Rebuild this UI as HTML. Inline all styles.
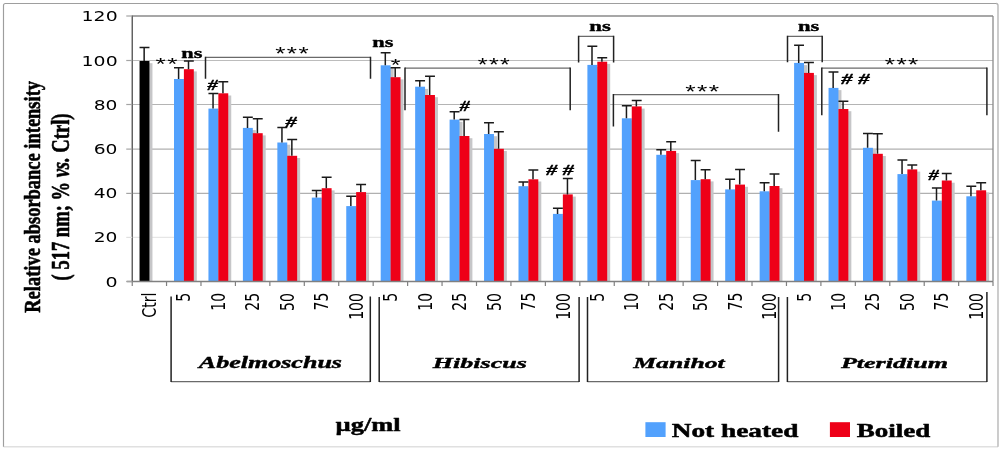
<!DOCTYPE html>
<html><head><meta charset="utf-8"><title>Relative absorbance intensity chart</title><style>html,body{margin:0;padding:0;background:#fff;width:1000px;height:449px;overflow:hidden}svg{display:block}</style></head><body>
<svg width="1000" height="449" viewBox="0 0 1000 449">
<defs><filter id="sh" x="-50%" y="-5%" width="200%" height="110%"><feGaussianBlur stdDeviation="0.6"/></filter></defs>
<rect x="0" y="0" width="1000" height="449" fill="#fff"/>
<path d="M3.6 446.8H998" stroke="#e0e0e0" stroke-width="1.5" fill="none"/>
<path d="M998 446.8V5.5Q998 3.5 996 3.5" stroke="#b2b2b2" stroke-width="1.3" fill="none"/>
<path d="M996 3.5H5.5Q3.5 3.5 3.5 5.5V446.8" stroke="#9e9e9e" stroke-width="1.15" fill="none"/>
<line x1="132.25" y1="60.5" x2="993.0" y2="60.5" stroke="#bcbcbc" stroke-width="1.0"/>
<line x1="132.25" y1="104.5" x2="993.0" y2="104.5" stroke="#b4b4b4" stroke-width="1.0"/>
<line x1="132.25" y1="149.1" x2="993.0" y2="149.1" stroke="#b0b0b0" stroke-width="1.3"/>
<line x1="132.25" y1="193.4" x2="993.0" y2="193.4" stroke="#b0b0b0" stroke-width="1.15"/>
<line x1="132.25" y1="237.4" x2="993.0" y2="237.4" stroke="#e6e6e6" stroke-width="1.2"/>
<line x1="132.25" y1="16.0" x2="993.0" y2="16.0" stroke="#8a8a8a" stroke-width="1.3"/>
<line x1="993.0" y1="16.0" x2="993.0" y2="281.5" stroke="#8a8a8a" stroke-width="1.3"/>
<rect x="142.55" y="63.2" width="9.9" height="218.3" fill="#c6c6c8" filter="url(#sh)"/>
<rect x="139.55" y="61" width="9.9" height="220.5" fill="#000"/>
<rect x="177" y="81.2" width="9.9" height="200.3" fill="#c6c6c8" filter="url(#sh)"/>
<rect x="186.9" y="71.4" width="9.9" height="210.1" fill="#c6c6c8" filter="url(#sh)"/>
<rect x="174" y="79" width="9.9" height="202.5" fill="#52a1fd"/>
<rect x="183.9" y="69.2" width="9.9" height="212.3" fill="#ee0018"/>
<rect x="211.45" y="110.8" width="9.9" height="170.7" fill="#c6c6c8" filter="url(#sh)"/>
<rect x="221.35" y="95.5" width="9.9" height="186" fill="#c6c6c8" filter="url(#sh)"/>
<rect x="208.45" y="108.6" width="9.9" height="172.9" fill="#52a1fd"/>
<rect x="218.35" y="93.3" width="9.9" height="188.2" fill="#ee0018"/>
<rect x="245.9" y="130.1" width="9.9" height="151.4" fill="#c6c6c8" filter="url(#sh)"/>
<rect x="255.8" y="135.4" width="9.9" height="146.1" fill="#c6c6c8" filter="url(#sh)"/>
<rect x="242.9" y="127.9" width="9.9" height="153.6" fill="#52a1fd"/>
<rect x="252.8" y="133.2" width="9.9" height="148.3" fill="#ee0018"/>
<rect x="280.35" y="144.7" width="9.9" height="136.8" fill="#c6c6c8" filter="url(#sh)"/>
<rect x="290.25" y="158" width="9.9" height="123.5" fill="#c6c6c8" filter="url(#sh)"/>
<rect x="277.35" y="142.5" width="9.9" height="139" fill="#52a1fd"/>
<rect x="287.25" y="155.8" width="9.9" height="125.7" fill="#ee0018"/>
<rect x="314.8" y="199.8" width="9.9" height="81.7" fill="#c6c6c8" filter="url(#sh)"/>
<rect x="324.7" y="190.4" width="9.9" height="91.1" fill="#c6c6c8" filter="url(#sh)"/>
<rect x="311.8" y="197.6" width="9.9" height="83.9" fill="#52a1fd"/>
<rect x="321.7" y="188.2" width="9.9" height="93.3" fill="#ee0018"/>
<rect x="349.25" y="208.3" width="9.9" height="73.2" fill="#c6c6c8" filter="url(#sh)"/>
<rect x="359.15" y="194.3" width="9.9" height="87.2" fill="#c6c6c8" filter="url(#sh)"/>
<rect x="346.25" y="206.1" width="9.9" height="75.4" fill="#52a1fd"/>
<rect x="356.15" y="192.1" width="9.9" height="89.4" fill="#ee0018"/>
<rect x="383.7" y="67.5" width="9.9" height="214" fill="#c6c6c8" filter="url(#sh)"/>
<rect x="393.6" y="79.4" width="9.9" height="202.1" fill="#c6c6c8" filter="url(#sh)"/>
<rect x="380.7" y="65.3" width="9.9" height="216.2" fill="#52a1fd"/>
<rect x="390.6" y="77.2" width="9.9" height="204.3" fill="#ee0018"/>
<rect x="418.15" y="88.9" width="9.9" height="192.6" fill="#c6c6c8" filter="url(#sh)"/>
<rect x="428.05" y="97.2" width="9.9" height="184.3" fill="#c6c6c8" filter="url(#sh)"/>
<rect x="415.15" y="86.7" width="9.9" height="194.8" fill="#52a1fd"/>
<rect x="425.05" y="95" width="9.9" height="186.5" fill="#ee0018"/>
<rect x="452.6" y="121.8" width="9.9" height="159.7" fill="#c6c6c8" filter="url(#sh)"/>
<rect x="462.5" y="138.2" width="9.9" height="143.3" fill="#c6c6c8" filter="url(#sh)"/>
<rect x="449.6" y="119.6" width="9.9" height="161.9" fill="#52a1fd"/>
<rect x="459.5" y="136" width="9.9" height="145.5" fill="#ee0018"/>
<rect x="487.05" y="136.2" width="9.9" height="145.3" fill="#c6c6c8" filter="url(#sh)"/>
<rect x="496.95" y="151" width="9.9" height="130.5" fill="#c6c6c8" filter="url(#sh)"/>
<rect x="484.05" y="134" width="9.9" height="147.5" fill="#52a1fd"/>
<rect x="493.95" y="148.8" width="9.9" height="132.7" fill="#ee0018"/>
<rect x="521.5" y="188.4" width="9.9" height="93.1" fill="#c6c6c8" filter="url(#sh)"/>
<rect x="531.4" y="181.5" width="9.9" height="100" fill="#c6c6c8" filter="url(#sh)"/>
<rect x="518.5" y="186.2" width="9.9" height="95.3" fill="#52a1fd"/>
<rect x="528.4" y="179.3" width="9.9" height="102.2" fill="#ee0018"/>
<rect x="555.95" y="216.1" width="9.9" height="65.4" fill="#c6c6c8" filter="url(#sh)"/>
<rect x="565.85" y="196.6" width="9.9" height="84.9" fill="#c6c6c8" filter="url(#sh)"/>
<rect x="552.95" y="213.9" width="9.9" height="67.6" fill="#52a1fd"/>
<rect x="562.85" y="194.4" width="9.9" height="87.1" fill="#ee0018"/>
<rect x="590.4" y="67.1" width="9.9" height="214.4" fill="#c6c6c8" filter="url(#sh)"/>
<rect x="600.3" y="63.9" width="9.9" height="217.6" fill="#c6c6c8" filter="url(#sh)"/>
<rect x="587.4" y="64.9" width="9.9" height="216.6" fill="#52a1fd"/>
<rect x="597.3" y="61.7" width="9.9" height="219.8" fill="#ee0018"/>
<rect x="624.85" y="120.5" width="9.9" height="161" fill="#c6c6c8" filter="url(#sh)"/>
<rect x="634.75" y="108.6" width="9.9" height="172.9" fill="#c6c6c8" filter="url(#sh)"/>
<rect x="621.85" y="118.3" width="9.9" height="163.2" fill="#52a1fd"/>
<rect x="631.75" y="106.4" width="9.9" height="175.1" fill="#ee0018"/>
<rect x="659.3" y="157" width="9.9" height="124.5" fill="#c6c6c8" filter="url(#sh)"/>
<rect x="669.2" y="153.1" width="9.9" height="128.4" fill="#c6c6c8" filter="url(#sh)"/>
<rect x="656.3" y="154.8" width="9.9" height="126.7" fill="#52a1fd"/>
<rect x="666.2" y="150.9" width="9.9" height="130.6" fill="#ee0018"/>
<rect x="693.75" y="182.3" width="9.9" height="99.2" fill="#c6c6c8" filter="url(#sh)"/>
<rect x="703.65" y="181.4" width="9.9" height="100.1" fill="#c6c6c8" filter="url(#sh)"/>
<rect x="690.75" y="180.1" width="9.9" height="101.4" fill="#52a1fd"/>
<rect x="700.65" y="179.2" width="9.9" height="102.3" fill="#ee0018"/>
<rect x="728.2" y="191.6" width="9.9" height="89.9" fill="#c6c6c8" filter="url(#sh)"/>
<rect x="738.1" y="186.8" width="9.9" height="94.7" fill="#c6c6c8" filter="url(#sh)"/>
<rect x="725.2" y="189.4" width="9.9" height="92.1" fill="#52a1fd"/>
<rect x="735.1" y="184.6" width="9.9" height="96.9" fill="#ee0018"/>
<rect x="762.65" y="193.5" width="9.9" height="88" fill="#c6c6c8" filter="url(#sh)"/>
<rect x="772.55" y="188.2" width="9.9" height="93.3" fill="#c6c6c8" filter="url(#sh)"/>
<rect x="759.65" y="191.3" width="9.9" height="90.2" fill="#52a1fd"/>
<rect x="769.55" y="186" width="9.9" height="95.5" fill="#ee0018"/>
<rect x="797.1" y="65.1" width="9.9" height="216.4" fill="#c6c6c8" filter="url(#sh)"/>
<rect x="807" y="75.1" width="9.9" height="206.4" fill="#c6c6c8" filter="url(#sh)"/>
<rect x="794.1" y="62.9" width="9.9" height="218.6" fill="#52a1fd"/>
<rect x="804" y="72.9" width="9.9" height="208.6" fill="#ee0018"/>
<rect x="831.55" y="90.1" width="9.9" height="191.4" fill="#c6c6c8" filter="url(#sh)"/>
<rect x="841.45" y="111.2" width="9.9" height="170.3" fill="#c6c6c8" filter="url(#sh)"/>
<rect x="828.55" y="87.9" width="9.9" height="193.6" fill="#52a1fd"/>
<rect x="838.45" y="109" width="9.9" height="172.5" fill="#ee0018"/>
<rect x="866" y="150" width="9.9" height="131.5" fill="#c6c6c8" filter="url(#sh)"/>
<rect x="875.9" y="156" width="9.9" height="125.5" fill="#c6c6c8" filter="url(#sh)"/>
<rect x="863" y="147.8" width="9.9" height="133.7" fill="#52a1fd"/>
<rect x="872.9" y="153.8" width="9.9" height="127.7" fill="#ee0018"/>
<rect x="900.45" y="176.3" width="9.9" height="105.2" fill="#c6c6c8" filter="url(#sh)"/>
<rect x="910.35" y="171.6" width="9.9" height="109.9" fill="#c6c6c8" filter="url(#sh)"/>
<rect x="897.45" y="174.1" width="9.9" height="107.4" fill="#52a1fd"/>
<rect x="907.35" y="169.4" width="9.9" height="112.1" fill="#ee0018"/>
<rect x="934.9" y="202.8" width="9.9" height="78.7" fill="#c6c6c8" filter="url(#sh)"/>
<rect x="944.8" y="182.7" width="9.9" height="98.8" fill="#c6c6c8" filter="url(#sh)"/>
<rect x="931.9" y="200.6" width="9.9" height="80.9" fill="#52a1fd"/>
<rect x="941.8" y="180.5" width="9.9" height="101" fill="#ee0018"/>
<rect x="969.35" y="198.5" width="9.9" height="83" fill="#c6c6c8" filter="url(#sh)"/>
<rect x="979.25" y="192.5" width="9.9" height="89" fill="#c6c6c8" filter="url(#sh)"/>
<rect x="966.35" y="196.3" width="9.9" height="85.2" fill="#52a1fd"/>
<rect x="976.25" y="190.3" width="9.9" height="91.2" fill="#ee0018"/>
<line x1="132.25" y1="15.5" x2="132.25" y2="282.0" stroke="#5a5a5a" stroke-width="1.4"/>
<line x1="126.75" y1="281.5" x2="993.0" y2="281.5" stroke="#808080" stroke-width="1.4"/>
<line x1="126.25" y1="281.5" x2="132.25" y2="281.5" stroke="#a4a4a4" stroke-width="1.2"/>
<line x1="126.25" y1="237.4" x2="132.25" y2="237.4" stroke="#e0e0e0" stroke-width="1.2"/>
<line x1="126.25" y1="193.4" x2="132.25" y2="193.4" stroke="#a4a4a4" stroke-width="1.2"/>
<line x1="126.25" y1="149.1" x2="132.25" y2="149.1" stroke="#a4a4a4" stroke-width="1.2"/>
<line x1="126.25" y1="104.5" x2="132.25" y2="104.5" stroke="#a4a4a4" stroke-width="1.2"/>
<line x1="126.25" y1="60.5" x2="132.25" y2="60.5" stroke="#a4a4a4" stroke-width="1.2"/>
<line x1="126.25" y1="16" x2="132.25" y2="16" stroke="#a4a4a4" stroke-width="1.2"/>
<line x1="132.25" y1="281.5" x2="132.25" y2="286.0" stroke="#808080" stroke-width="1.2"/>
<line x1="166.54" y1="281.5" x2="166.54" y2="286.0" stroke="#808080" stroke-width="1.2"/>
<line x1="200.98" y1="281.5" x2="200.98" y2="286.0" stroke="#808080" stroke-width="1.2"/>
<line x1="235.42" y1="281.5" x2="235.42" y2="286.0" stroke="#808080" stroke-width="1.2"/>
<line x1="269.86" y1="281.5" x2="269.86" y2="286.0" stroke="#808080" stroke-width="1.2"/>
<line x1="304.3" y1="281.5" x2="304.3" y2="286.0" stroke="#808080" stroke-width="1.2"/>
<line x1="338.74" y1="281.5" x2="338.74" y2="286.0" stroke="#808080" stroke-width="1.2"/>
<line x1="373.18" y1="281.5" x2="373.18" y2="286.0" stroke="#808080" stroke-width="1.2"/>
<line x1="407.62" y1="281.5" x2="407.62" y2="286.0" stroke="#808080" stroke-width="1.2"/>
<line x1="442.06" y1="281.5" x2="442.06" y2="286.0" stroke="#808080" stroke-width="1.2"/>
<line x1="476.5" y1="281.5" x2="476.5" y2="286.0" stroke="#808080" stroke-width="1.2"/>
<line x1="510.94" y1="281.5" x2="510.94" y2="286.0" stroke="#808080" stroke-width="1.2"/>
<line x1="545.38" y1="281.5" x2="545.38" y2="286.0" stroke="#808080" stroke-width="1.2"/>
<line x1="579.82" y1="281.5" x2="579.82" y2="286.0" stroke="#808080" stroke-width="1.2"/>
<line x1="614.26" y1="281.5" x2="614.26" y2="286.0" stroke="#808080" stroke-width="1.2"/>
<line x1="648.7" y1="281.5" x2="648.7" y2="286.0" stroke="#808080" stroke-width="1.2"/>
<line x1="683.14" y1="281.5" x2="683.14" y2="286.0" stroke="#808080" stroke-width="1.2"/>
<line x1="717.58" y1="281.5" x2="717.58" y2="286.0" stroke="#808080" stroke-width="1.2"/>
<line x1="752.02" y1="281.5" x2="752.02" y2="286.0" stroke="#808080" stroke-width="1.2"/>
<line x1="786.46" y1="281.5" x2="786.46" y2="286.0" stroke="#808080" stroke-width="1.2"/>
<line x1="820.9" y1="281.5" x2="820.9" y2="286.0" stroke="#808080" stroke-width="1.2"/>
<line x1="855.34" y1="281.5" x2="855.34" y2="286.0" stroke="#808080" stroke-width="1.2"/>
<line x1="889.78" y1="281.5" x2="889.78" y2="286.0" stroke="#808080" stroke-width="1.2"/>
<line x1="924.22" y1="281.5" x2="924.22" y2="286.0" stroke="#808080" stroke-width="1.2"/>
<line x1="958.66" y1="281.5" x2="958.66" y2="286.0" stroke="#808080" stroke-width="1.2"/>
<line x1="993" y1="281.5" x2="993" y2="286.0" stroke="#808080" stroke-width="1.2"/>
<path d="M144.15 61V47.4M139.55 47.4H149.45" stroke="#1a1a1a" stroke-width="1.5" fill="none"/>
<path d="M178.6 79V67.75M174 67.75H183.9" stroke="#1a1a1a" stroke-width="1.5" fill="none"/>
<path d="M188.5 69.2V61M183.9 61H193.8" stroke="#1a1a1a" stroke-width="1.5" fill="none"/>
<path d="M213.05 108.6V93.6M208.45 93.6H218.35" stroke="#1a1a1a" stroke-width="1.5" fill="none"/>
<path d="M222.95 93.3V81.7M218.35 81.7H228.25" stroke="#1a1a1a" stroke-width="1.5" fill="none"/>
<path d="M247.5 127.9V117.3M242.9 117.3H252.8" stroke="#1a1a1a" stroke-width="1.5" fill="none"/>
<path d="M257.4 133.2V118.8M252.8 118.8H262.7" stroke="#1a1a1a" stroke-width="1.5" fill="none"/>
<path d="M281.95 142.5V127.4M277.35 127.4H287.25" stroke="#1a1a1a" stroke-width="1.5" fill="none"/>
<path d="M291.85 155.8V139.6M287.25 139.6H297.15" stroke="#1a1a1a" stroke-width="1.5" fill="none"/>
<path d="M316.4 197.6V190.5M311.8 190.5H321.7" stroke="#1a1a1a" stroke-width="1.5" fill="none"/>
<path d="M326.3 188.2V177.3M321.7 177.3H331.6" stroke="#1a1a1a" stroke-width="1.5" fill="none"/>
<path d="M350.85 206.1V196.3M346.25 196.3H356.15" stroke="#1a1a1a" stroke-width="1.5" fill="none"/>
<path d="M360.75 192.1V184.6M356.15 184.6H366.05" stroke="#1a1a1a" stroke-width="1.5" fill="none"/>
<path d="M385.3 65.3V52.8M380.7 52.8H390.6" stroke="#1a1a1a" stroke-width="1.5" fill="none"/>
<path d="M395.2 77.2V67.8M390.6 67.8H400.5" stroke="#1a1a1a" stroke-width="1.5" fill="none"/>
<path d="M419.75 86.7V80.8M415.15 80.8H425.05" stroke="#1a1a1a" stroke-width="1.5" fill="none"/>
<path d="M429.65 95V76.3M425.05 76.3H434.95" stroke="#1a1a1a" stroke-width="1.5" fill="none"/>
<path d="M454.2 119.6V111.8M449.6 111.8H459.5" stroke="#1a1a1a" stroke-width="1.5" fill="none"/>
<path d="M464.1 136V119.6M459.5 119.6H469.4" stroke="#1a1a1a" stroke-width="1.5" fill="none"/>
<path d="M488.65 134V122.7M484.05 122.7H493.95" stroke="#1a1a1a" stroke-width="1.5" fill="none"/>
<path d="M498.55 148.8V131.8M493.95 131.8H503.85" stroke="#1a1a1a" stroke-width="1.5" fill="none"/>
<path d="M523.1 186.2V182M518.5 182H528.4" stroke="#1a1a1a" stroke-width="1.5" fill="none"/>
<path d="M533 179.3V170M528.4 170H538.3" stroke="#1a1a1a" stroke-width="1.5" fill="none"/>
<path d="M557.55 213.9V208.2M552.95 208.2H562.85" stroke="#1a1a1a" stroke-width="1.5" fill="none"/>
<path d="M567.45 194.4V178.5M562.85 178.5H572.75" stroke="#1a1a1a" stroke-width="1.5" fill="none"/>
<path d="M592 64.9V46.2M587.4 46.2H597.3" stroke="#1a1a1a" stroke-width="1.5" fill="none"/>
<path d="M601.9 61.7V57.8M597.3 57.8H607.2" stroke="#1a1a1a" stroke-width="1.5" fill="none"/>
<path d="M626.45 118.3V105.8M621.85 105.8H631.75" stroke="#1a1a1a" stroke-width="1.5" fill="none"/>
<path d="M636.35 106.4V100.5M631.75 100.5H641.65" stroke="#1a1a1a" stroke-width="1.5" fill="none"/>
<path d="M660.9 154.8V149.8M656.3 149.8H666.2" stroke="#1a1a1a" stroke-width="1.5" fill="none"/>
<path d="M670.8 150.9V141.8M666.2 141.8H676.1" stroke="#1a1a1a" stroke-width="1.5" fill="none"/>
<path d="M695.35 180.1V160.5M690.75 160.5H700.65" stroke="#1a1a1a" stroke-width="1.5" fill="none"/>
<path d="M705.25 179.2V169.8M700.65 169.8H710.55" stroke="#1a1a1a" stroke-width="1.5" fill="none"/>
<path d="M729.8 189.4V179.2M725.2 179.2H735.1" stroke="#1a1a1a" stroke-width="1.5" fill="none"/>
<path d="M739.7 184.6V169.4M735.1 169.4H745" stroke="#1a1a1a" stroke-width="1.5" fill="none"/>
<path d="M764.25 191.3V182.8M759.65 182.8H769.55" stroke="#1a1a1a" stroke-width="1.5" fill="none"/>
<path d="M774.15 186V173.9M769.55 173.9H779.45" stroke="#1a1a1a" stroke-width="1.5" fill="none"/>
<path d="M798.7 62.9V45.3M794.1 45.3H804" stroke="#1a1a1a" stroke-width="1.5" fill="none"/>
<path d="M808.6 72.9V62.6M804 62.6H813.9" stroke="#1a1a1a" stroke-width="1.5" fill="none"/>
<path d="M833.15 87.9V72M828.55 72H838.45" stroke="#1a1a1a" stroke-width="1.5" fill="none"/>
<path d="M843.05 109V101.3M838.45 101.3H848.35" stroke="#1a1a1a" stroke-width="1.5" fill="none"/>
<path d="M867.6 147.8V133.4M863 133.4H872.9" stroke="#1a1a1a" stroke-width="1.5" fill="none"/>
<path d="M877.5 153.8V133.8M872.9 133.8H882.8" stroke="#1a1a1a" stroke-width="1.5" fill="none"/>
<path d="M902.05 174.1V160.1M897.45 160.1H907.35" stroke="#1a1a1a" stroke-width="1.5" fill="none"/>
<path d="M911.95 169.4V165M907.35 165H917.25" stroke="#1a1a1a" stroke-width="1.5" fill="none"/>
<path d="M936.5 200.6V187.9M931.9 187.9H941.8" stroke="#1a1a1a" stroke-width="1.5" fill="none"/>
<path d="M946.4 180.5V173.4M941.8 173.4H951.7" stroke="#1a1a1a" stroke-width="1.5" fill="none"/>
<path d="M970.95 196.3V186.3M966.35 186.3H976.25" stroke="#1a1a1a" stroke-width="1.5" fill="none"/>
<path d="M980.85 190.3V182.8M976.25 182.8H986.15" stroke="#1a1a1a" stroke-width="1.5" fill="none"/>
<path d="M205.5 57.4H370.5" stroke="#6a6a6a" stroke-width="1.25" fill="none"/><path d="M205.5 78.8V56.8M370.5 56.8V78.8" stroke="#222" stroke-width="1.5" fill="none"/>
<path d="M405 68.1H570.2" stroke="#6a6a6a" stroke-width="1.25" fill="none"/><path d="M405 110.3V67.5M570.2 67.5V110.3" stroke="#222" stroke-width="1.5" fill="none"/>
<path d="M578.6 36.3H613.6" stroke="#6a6a6a" stroke-width="1.25" fill="none"/><path d="M578.6 62.6V35.7M613.6 35.7V62.6" stroke="#222" stroke-width="1.5" fill="none"/>
<path d="M613.4 94.6H778.5" stroke="#6a6a6a" stroke-width="1.25" fill="none"/><path d="M613.4 126.5V94M778.5 94V131.7" stroke="#222" stroke-width="1.5" fill="none"/>
<path d="M787.5 36.3H822.2" stroke="#6a6a6a" stroke-width="1.25" fill="none"/><path d="M787.5 62.2V35.7M822.2 35.7V62.2" stroke="#222" stroke-width="1.5" fill="none"/>
<path d="M821.8 68H986.9" stroke="#6a6a6a" stroke-width="1.25" fill="none"/><path d="M821.8 115.2V67.4M986.9 67.4V115.2" stroke="#222" stroke-width="1.5" fill="none"/>
<path d="M171.1 381.5H370.3" stroke="#6a6a6a" stroke-width="1.25" fill="none"/><path d="M171.1 296.5V382.1M370.3 296.5V382.1" stroke="#222" stroke-width="1.5" fill="none"/>
<path d="M379.2 381.5H579.1" stroke="#6a6a6a" stroke-width="1.25" fill="none"/><path d="M379.2 297V382.1M579.1 297V382.1" stroke="#222" stroke-width="1.5" fill="none"/>
<path d="M587.5 381.5H778.6" stroke="#6a6a6a" stroke-width="1.25" fill="none"/><path d="M587.5 297V382.1M778.6 297V382.1" stroke="#222" stroke-width="1.5" fill="none"/>
<path d="M787.4 381.5H986.9" stroke="#6a6a6a" stroke-width="1.25" fill="none"/><path d="M787.4 297V382.1M986.9 292V382.1" stroke="#222" stroke-width="1.5" fill="none"/>
<text transform="matrix(0.19055,0,0,0.13816,105.50102,286.61184)" font-family="&quot;DejaVu Sans&quot;, sans-serif" font-weight="normal" font-style="normal" font-size="100" fill="#000">0</text>
<text transform="matrix(0.18676,0,0,0.13816,93.69225,242.45384)" font-family="&quot;DejaVu Sans&quot;, sans-serif" font-weight="normal" font-style="normal" font-size="100" fill="#000">20</text>
<text transform="matrix(0.18663,0,0,0.13816,93.70711,198.04584)" font-family="&quot;DejaVu Sans&quot;, sans-serif" font-weight="normal" font-style="normal" font-size="100" fill="#000">40</text>
<text transform="matrix(0.18674,0,0,0.13816,93.69393,153.88784)" font-family="&quot;DejaVu Sans&quot;, sans-serif" font-weight="normal" font-style="normal" font-size="100" fill="#000">60</text>
<text transform="matrix(0.18676,0,0,0.13816,93.69225,109.72984)" font-family="&quot;DejaVu Sans&quot;, sans-serif" font-weight="normal" font-style="normal" font-size="100" fill="#000">80</text>
<text transform="matrix(0.18877,0,0,0.13816,81.61936,65.57184)" font-family="&quot;DejaVu Sans&quot;, sans-serif" font-weight="normal" font-style="normal" font-size="100" fill="#000">100</text>
<text transform="matrix(0.18877,0,0,0.13816,81.61936,20.91184)" font-family="&quot;DejaVu Sans&quot;, sans-serif" font-weight="normal" font-style="normal" font-size="100" fill="#000">120</text>
<text transform="matrix(0,-0.14286,0.19004,0,156.07634,317.83973)" font-family="&quot;DejaVu Sans&quot;, sans-serif" font-weight="normal" font-style="normal" font-size="100" fill="#000">Ctrl</text>
<text transform="matrix(0,-0.14202,0.18936,0,190.24184,301.74927)" font-family="&quot;DejaVu Sans&quot;, sans-serif" font-weight="normal" font-style="normal" font-size="100" fill="#000">5</text>
<text transform="matrix(0,-0.1404,0.18986,0,225.04976,310.79449)" font-family="&quot;DejaVu Sans&quot;, sans-serif" font-weight="normal" font-style="normal" font-size="100" fill="#000">10</text>
<text transform="matrix(0,-0.14161,0.18963,0,259.42162,310.65729)" font-family="&quot;DejaVu Sans&quot;, sans-serif" font-weight="normal" font-style="normal" font-size="100" fill="#000">25</text>
<text transform="matrix(0,-0.14117,0.18986,0,293.99976,310.88299)" font-family="&quot;DejaVu Sans&quot;, sans-serif" font-weight="normal" font-style="normal" font-size="100" fill="#000">50</text>
<text transform="matrix(0,-0.13988,0.18936,0,328.14184,310.45221)" font-family="&quot;DejaVu Sans&quot;, sans-serif" font-weight="normal" font-style="normal" font-size="100" fill="#000">75</text>
<text transform="matrix(0,-0.14083,0.18986,0,362.69976,319.85996)" font-family="&quot;DejaVu Sans&quot;, sans-serif" font-weight="normal" font-style="normal" font-size="100" fill="#000">100</text>
<text transform="matrix(0,-0.14202,0.18936,0,397.09184,301.74927)" font-family="&quot;DejaVu Sans&quot;, sans-serif" font-weight="normal" font-style="normal" font-size="100" fill="#000">5</text>
<text transform="matrix(0,-0.1404,0.18986,0,431.64976,310.79449)" font-family="&quot;DejaVu Sans&quot;, sans-serif" font-weight="normal" font-style="normal" font-size="100" fill="#000">10</text>
<text transform="matrix(0,-0.14161,0.18963,0,466.02162,310.65729)" font-family="&quot;DejaVu Sans&quot;, sans-serif" font-weight="normal" font-style="normal" font-size="100" fill="#000">25</text>
<text transform="matrix(0,-0.14117,0.18986,0,500.59976,310.88299)" font-family="&quot;DejaVu Sans&quot;, sans-serif" font-weight="normal" font-style="normal" font-size="100" fill="#000">50</text>
<text transform="matrix(0,-0.13988,0.18936,0,534.74184,310.45221)" font-family="&quot;DejaVu Sans&quot;, sans-serif" font-weight="normal" font-style="normal" font-size="100" fill="#000">75</text>
<text transform="matrix(0,-0.14083,0.18986,0,569.54976,319.85996)" font-family="&quot;DejaVu Sans&quot;, sans-serif" font-weight="normal" font-style="normal" font-size="100" fill="#000">100</text>
<text transform="matrix(0,-0.14202,0.18936,0,603.69184,301.74927)" font-family="&quot;DejaVu Sans&quot;, sans-serif" font-weight="normal" font-style="normal" font-size="100" fill="#000">5</text>
<text transform="matrix(0,-0.1404,0.18986,0,638.49976,310.79449)" font-family="&quot;DejaVu Sans&quot;, sans-serif" font-weight="normal" font-style="normal" font-size="100" fill="#000">10</text>
<text transform="matrix(0,-0.14161,0.18963,0,672.62162,310.65729)" font-family="&quot;DejaVu Sans&quot;, sans-serif" font-weight="normal" font-style="normal" font-size="100" fill="#000">25</text>
<text transform="matrix(0,-0.14117,0.18986,0,707.19976,310.88299)" font-family="&quot;DejaVu Sans&quot;, sans-serif" font-weight="normal" font-style="normal" font-size="100" fill="#000">50</text>
<text transform="matrix(0,-0.13988,0.18936,0,741.59184,310.45221)" font-family="&quot;DejaVu Sans&quot;, sans-serif" font-weight="normal" font-style="normal" font-size="100" fill="#000">75</text>
<text transform="matrix(0,-0.14083,0.18986,0,776.14976,319.85996)" font-family="&quot;DejaVu Sans&quot;, sans-serif" font-weight="normal" font-style="normal" font-size="100" fill="#000">100</text>
<text transform="matrix(0,-0.14202,0.18936,0,810.54184,301.74927)" font-family="&quot;DejaVu Sans&quot;, sans-serif" font-weight="normal" font-style="normal" font-size="100" fill="#000">5</text>
<text transform="matrix(0,-0.1404,0.18986,0,845.09976,310.79449)" font-family="&quot;DejaVu Sans&quot;, sans-serif" font-weight="normal" font-style="normal" font-size="100" fill="#000">10</text>
<text transform="matrix(0,-0.14161,0.18963,0,879.47162,310.65729)" font-family="&quot;DejaVu Sans&quot;, sans-serif" font-weight="normal" font-style="normal" font-size="100" fill="#000">25</text>
<text transform="matrix(0,-0.14117,0.18986,0,914.04976,310.88299)" font-family="&quot;DejaVu Sans&quot;, sans-serif" font-weight="normal" font-style="normal" font-size="100" fill="#000">50</text>
<text transform="matrix(0,-0.13988,0.18936,0,948.19184,310.45221)" font-family="&quot;DejaVu Sans&quot;, sans-serif" font-weight="normal" font-style="normal" font-size="100" fill="#000">75</text>
<text transform="matrix(0,-0.14083,0.18986,0,982.99976,319.85996)" font-family="&quot;DejaVu Sans&quot;, sans-serif" font-weight="normal" font-style="normal" font-size="100" fill="#000">100</text>
<text transform="matrix(0,-0.18468,0.23755,0,39.97615,312.71986)" font-family="&quot;Liberation Serif&quot;, serif" font-weight="bold" font-style="normal" font-size="100" fill="#000" stroke="#000" stroke-width="2.5" stroke-linejoin="round">Relative absorbance intensity</text>
<text transform="matrix(0,-0.18564,0.24257,0,68.92161,280.39343)" font-family="&quot;Liberation Serif&quot;, serif" font-weight="bold" font-style="normal" font-size="100" fill="#000" stroke="#000" stroke-width="2.5" stroke-linejoin="round">( 517 nm; % <tspan font-style="italic">vs.</tspan> Ctrl)</text>
<text transform="matrix(0.26024,0,0,0.1616,198.84983,368.3944)" font-family="&quot;Liberation Serif&quot;, serif" font-weight="bold" font-style="italic" font-size="100" fill="#000" stroke="#000" stroke-width="2.5" stroke-linejoin="round">Abelmoschus</text>
<text transform="matrix(0.26046,0,0,0.15592,432.85779,368.05138)" font-family="&quot;Liberation Serif&quot;, serif" font-weight="bold" font-style="italic" font-size="100" fill="#000" stroke="#000" stroke-width="2.5" stroke-linejoin="round">Hibiscus</text>
<text transform="matrix(0.25727,0,0,0.15592,633.20306,368.05138)" font-family="&quot;Liberation Serif&quot;, serif" font-weight="bold" font-style="italic" font-size="100" fill="#000" stroke="#000" stroke-width="2.5" stroke-linejoin="round">Manihot</text>
<text transform="matrix(0.2606,0,0,0.15592,840.89874,368.05138)" font-family="&quot;Liberation Serif&quot;, serif" font-weight="bold" font-style="italic" font-size="100" fill="#000" stroke="#000" stroke-width="2.5" stroke-linejoin="round">Pteridium</text>
<text transform="matrix(0.26361,0,0,0.19714,335.61939,431.18136)" font-family="&quot;Liberation Serif&quot;, serif" font-weight="bold" font-style="normal" font-size="100" fill="#000" stroke="#000" stroke-width="2.5" stroke-linejoin="round">µg/ml</text>
<rect x="645.4" y="422.2" width="20.2" height="14.8" fill="#52a1fd"/>
<text transform="matrix(0.27322,0,0,0.19466,671.70113,436.66832)" font-family="&quot;Liberation Serif&quot;, serif" font-weight="bold" font-style="normal" font-size="100" fill="#000" stroke="#000" stroke-width="2.5" stroke-linejoin="round">Not heated</text>
<rect x="829.9" y="422.2" width="20.1" height="14.8" fill="#ee0018"/>
<text transform="matrix(0.2701,0,0,0.19466,856.65637,436.66832)" font-family="&quot;Liberation Serif&quot;, serif" font-weight="bold" font-style="normal" font-size="100" fill="#000" stroke="#000" stroke-width="2.5" stroke-linejoin="round">Boiled</text>
<text transform="matrix(0.22272,0,0,0.15078,181.37075,57.56796)" font-family="&quot;Liberation Serif&quot;, serif" font-weight="bold" font-style="normal" font-size="100" fill="#000" stroke="#000" stroke-width="2.5" stroke-linejoin="round">ns</text>
<text transform="matrix(0.22319,0,0,0.14315,372.3236,47.36738)" font-family="&quot;Liberation Serif&quot;, serif" font-weight="bold" font-style="normal" font-size="100" fill="#000" stroke="#000" stroke-width="2.5" stroke-linejoin="round">ns</text>
<text transform="matrix(0.22709,0,0,0.14224,589.31313,30.92149)" font-family="&quot;Liberation Serif&quot;, serif" font-weight="bold" font-style="normal" font-size="100" fill="#000" stroke="#000" stroke-width="2.5" stroke-linejoin="round">ns</text>
<text transform="matrix(0.22601,0,0,0.14224,797.91437,30.92149)" font-family="&quot;Liberation Serif&quot;, serif" font-weight="bold" font-style="normal" font-size="100" fill="#000" stroke="#000" stroke-width="2.5" stroke-linejoin="round">ns</text>
<text transform="matrix(0.26211,0,0,0.17046,155.61622,70.25344)" font-family="&quot;Liberation Sans&quot;, sans-serif" font-weight="normal" font-style="normal" font-size="100" fill="#000"><tspan letter-spacing="5.5">**</tspan></text>
<text transform="matrix(0.26216,0,0,0.17888,275.22171,59.98742)" font-family="&quot;Liberation Sans&quot;, sans-serif" font-weight="normal" font-style="normal" font-size="100" fill="#000"><tspan letter-spacing="5.5">***</tspan></text>
<text transform="matrix(0.24816,0,0,0.16856,390.68588,70.95571)" font-family="&quot;Liberation Sans&quot;, sans-serif" font-weight="normal" font-style="normal" font-size="100" fill="#000"><tspan letter-spacing="5.5">*</tspan></text>
<text transform="matrix(0.24968,0,0,0.19003,477.79533,71.2867)" font-family="&quot;Liberation Sans&quot;, sans-serif" font-weight="normal" font-style="normal" font-size="100" fill="#000"><tspan letter-spacing="5.5">***</tspan></text>
<text transform="matrix(0.26542,0,0,0.19003,685.21314,98.2867)" font-family="&quot;Liberation Sans&quot;, sans-serif" font-weight="normal" font-style="normal" font-size="100" fill="#000"><tspan letter-spacing="5.5">***</tspan></text>
<text transform="matrix(0.26216,0,0,0.19003,884.77171,71.1867)" font-family="&quot;Liberation Sans&quot;, sans-serif" font-weight="normal" font-style="normal" font-size="100" fill="#000"><tspan letter-spacing="5.5">***</tspan></text>
<text transform="matrix(0.20439,0,0,0.13641,207.41095,89.8583)" font-family="&quot;Liberation Serif&quot;, serif" font-weight="bold" font-style="italic" font-size="100" fill="#000" stroke="#000" stroke-width="2.5" stroke-linejoin="round">#</text>
<text transform="matrix(0.22358,0,0,0.13972,285.38702,127.21579)" font-family="&quot;Liberation Serif&quot;, serif" font-weight="bold" font-style="italic" font-size="100" fill="#000" stroke="#000" stroke-width="2.5" stroke-linejoin="round">#</text>
<text transform="matrix(0.19767,0,0,0.13729,459.73558,110.66191)" font-family="&quot;Liberation Serif&quot;, serif" font-weight="bold" font-style="italic" font-size="100" fill="#000" stroke="#000" stroke-width="2.5" stroke-linejoin="round">#</text>
<text transform="matrix(0.21901,0,0,0.14496,546.29313,174.66133)" font-family="&quot;Liberation Serif&quot;, serif" font-weight="bold" font-style="italic" font-size="100" fill="#000" stroke="#000" stroke-width="2.5" stroke-linejoin="round"># #</text>
<text transform="matrix(0.22568,0,0,0.13972,841.29432,84.21579)" font-family="&quot;Liberation Serif&quot;, serif" font-weight="bold" font-style="italic" font-size="100" fill="#000" stroke="#000" stroke-width="2.5" stroke-linejoin="round"># #</text>
<text transform="matrix(0.20439,0,0,0.13885,928.43582,179.8625)" font-family="&quot;Liberation Serif&quot;, serif" font-weight="bold" font-style="italic" font-size="100" fill="#000" stroke="#000" stroke-width="2.5" stroke-linejoin="round">#</text>
</svg>
</body></html>
